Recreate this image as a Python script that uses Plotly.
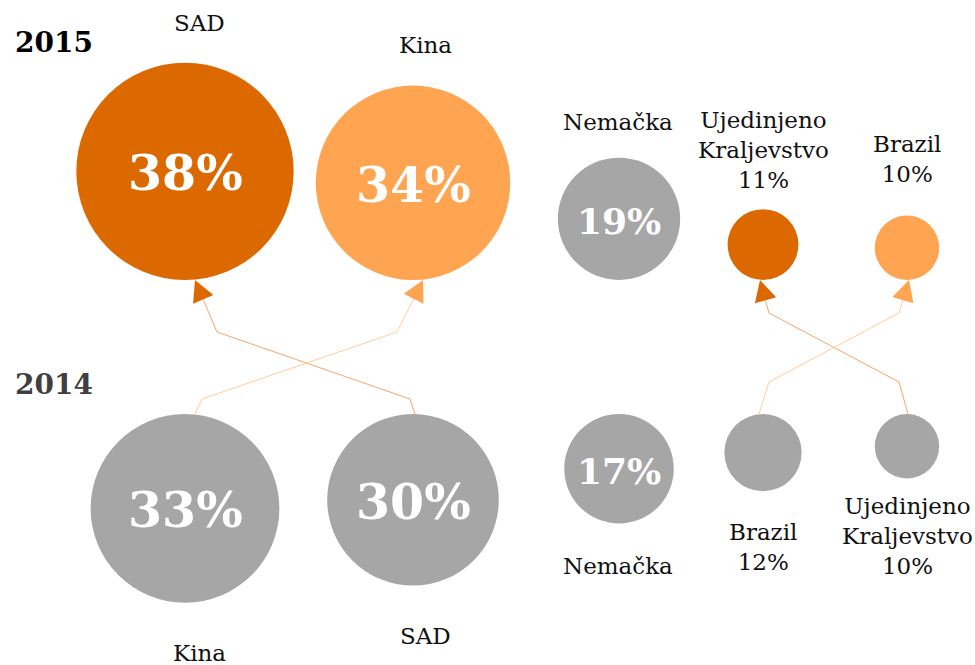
"""Bubble comparison of 2015 vs 2014 shares with rank-change arrows."""

import plotly.graph_objects as go

# data
years = ["2015", "2014"]
countries_2015 = ["SAD", "Kina", "Nemačka", "Ujedinjeno Kraljevstvo", "Brazil"]
share_2015 = [38, 34, 19, 11, 10]
countries_2014 = ["Kina", "SAD", "Nemačka", "Brazil", "Ujedinjeno Kraljevstvo"]
share_2014 = [33, 30, 17, 12, 10]

# layout constants (pixel space, y grows downwards)
WIDTH, HEIGHT = 975, 665
COLUMN_X = [185, 413, 619, 763, 907]
LABEL_X = [199, 425, 618, 763, 907]
RADIUS_PER_POINT = [2.86, 2.86, 3.22, 3.22, 3.22]
TOP_ROW_BOTTOM = 280
BOTTOM_ROW_TOP = 414
LABEL_GAP_TOP = [25, 26, 21, 14, 27]
LABEL_GAP_BOTTOM = [35, 35, 28, 26, 13]
INSIDE_MIN_SHARE = 15

FONT = "DejaVu Serif"
DARK_ORANGE = "#DC6900"
LIGHT_ORANGE = "#FFA552"
GREY = "#A6A6A6"
LINE_DARK = "#F2A56A"
LINE_LIGHT = "#FFCC9C"
TEXT_COLOR = "#111111"

# arrow shape per column group: offsets are (constant, times direction sign)
ARROW_GROUPS = {
    "left": {"start": (6, 4), "k1": (7, 10), "rise": 15, "k2": (8, -24), "drop": 52, "tip": (10, 0)},
    "right": {"start": (-1.5, -2.5), "k1": (-1, 7), "rise": 32, "k2": (-1, -7), "drop": 33, "tip": (-0.5, 2.5)},
}
HEAD_LENGTH = 21
HEAD_HALF_WIDTH = 11


def radius(col, share):
    return RADIUS_PER_POINT[col] * share


def wrap_label(name, share):
    text = name.replace(" ", "<br>")
    if share < INSIDE_MIN_SHARE:
        text += f"<br>{share}%"
    return text


fig = go.Figure()
shapes = []
annotations = []

# circle colours for 2015 depend on the rank change vs 2014
colors_2015 = []
for i, country in enumerate(countries_2015):
    j = countries_2014.index(country)
    colors_2015.append(DARK_ORANGE if j > i else LIGHT_ORANGE if j < i else GREY)

rows = [
    (countries_2015, share_2015, colors_2015, True),
    (countries_2014, share_2014, [GREY] * len(countries_2014), False),
]
centers = {}
for names, shares, colors, is_top in rows:
    for col, (name, share, color) in enumerate(zip(names, shares, colors)):
        r = radius(col, share)
        cx = COLUMN_X[col]
        cy = TOP_ROW_BOTTOM - r if is_top else BOTTOM_ROW_TOP + r
        centers[(name, is_top)] = (cx, cy, r)
        shapes.append(dict(
            type="circle", xref="x", yref="y", layer="below",
            x0=cx - r, x1=cx + r, y0=cy - r, y1=cy + r,
            fillcolor=color, line=dict(width=0),
        ))
        if share >= INSIDE_MIN_SHARE:
            annotations.append(dict(
                x=cx, y=cy + 2, text=f"<b>{share}%</b>", showarrow=False,
                font=dict(family=FONT, size=49 if r > 75 else 36, color="white"),
                xanchor="center", yanchor="middle",
            ))
        if is_top:
            ly, anchor = cy - r - LABEL_GAP_TOP[col], "bottom"
        else:
            ly, anchor = cy + r + LABEL_GAP_BOTTOM[col], "top"
        annotations.append(dict(
            x=LABEL_X[col], y=ly, text=wrap_label(name, share), showarrow=False,
            font=dict(family=FONT, size=23, color=TEXT_COLOR),
            xanchor="center", yanchor=anchor, align="center",
        ))

# arrows from 2014 position to 2015 position
for i, country in enumerate(countries_2015):
    j = countries_2014.index(country)
    if i == j:
        continue
    src_x, src_y, src_r = centers[(country, False)]
    dst_x, dst_y, dst_r = centers[(country, True)]
    s = 1 if dst_x > src_x else -1
    g = ARROW_GROUPS["left" if min(i, j) < 2 else "right"]
    y0 = src_y - src_r
    y3 = dst_y + dst_r
    p0 = (src_x + g["start"][0] + s * g["start"][1], y0)
    p1 = (src_x + g["k1"][0] + s * g["k1"][1], y0 - g["rise"])
    p2 = (dst_x + g["k2"][0] + s * g["k2"][1], y3 + g["drop"])
    tip = (dst_x + g["tip"][0] + s * g["tip"][1], y3)
    dx, dy = tip[0] - p2[0], tip[1] - p2[1]
    norm = (dx ** 2 + dy ** 2) ** 0.5
    ux, uy = dx / norm, dy / norm
    base = (tip[0] - HEAD_LENGTH * ux, tip[1] - HEAD_LENGTH * uy)
    head_color = colors_2015[i]
    line_color = LINE_DARK if head_color == DARK_ORANGE else LINE_LIGHT
    fig.add_trace(go.Scatter(
        x=[p0[0], p1[0], p2[0], base[0]], y=[p0[1], p1[1], p2[1], base[1]],
        mode="lines", line=dict(color=line_color, width=1),
        hoverinfo="skip", showlegend=False,
    ))
    a = (base[0] - HEAD_HALF_WIDTH * uy, base[1] + HEAD_HALF_WIDTH * ux)
    b = (base[0] + HEAD_HALF_WIDTH * uy, base[1] - HEAD_HALF_WIDTH * ux)
    shapes.append(dict(
        type="path", xref="x", yref="y", layer="above",
        path=f"M{tip[0]},{tip[1]} L{a[0]},{a[1]} L{b[0]},{b[1]} Z",
        fillcolor=head_color, line=dict(width=0),
    ))

# year labels
for year, y, color in zip(years, [42, 384], ["#000000", "#404040"]):
    annotations.append(dict(
        x=13, y=y, text=f"<b>{year}</b>", showarrow=False,
        font=dict(family=FONT, size=28, color=color),
        xanchor="left", yanchor="middle",
    ))

fig.update_layout(
    width=WIDTH,
    height=HEIGHT,
    margin=dict(l=0, r=0, t=0, b=0),
    paper_bgcolor="white",
    plot_bgcolor="white",
    xaxis=dict(range=[0, WIDTH], visible=False, fixedrange=True),
    yaxis=dict(range=[HEIGHT, 0], visible=False, fixedrange=True),
    shapes=shapes,
    annotations=annotations,
    showlegend=False,
)

# page body has a default margin; drop it so the figure fills the window
fig.write_html(
    "out.html",
    config={"displayModeBar": False},
    post_script="document.body.style.margin = '0'; document.body.style.overflow = 'hidden';",
)
